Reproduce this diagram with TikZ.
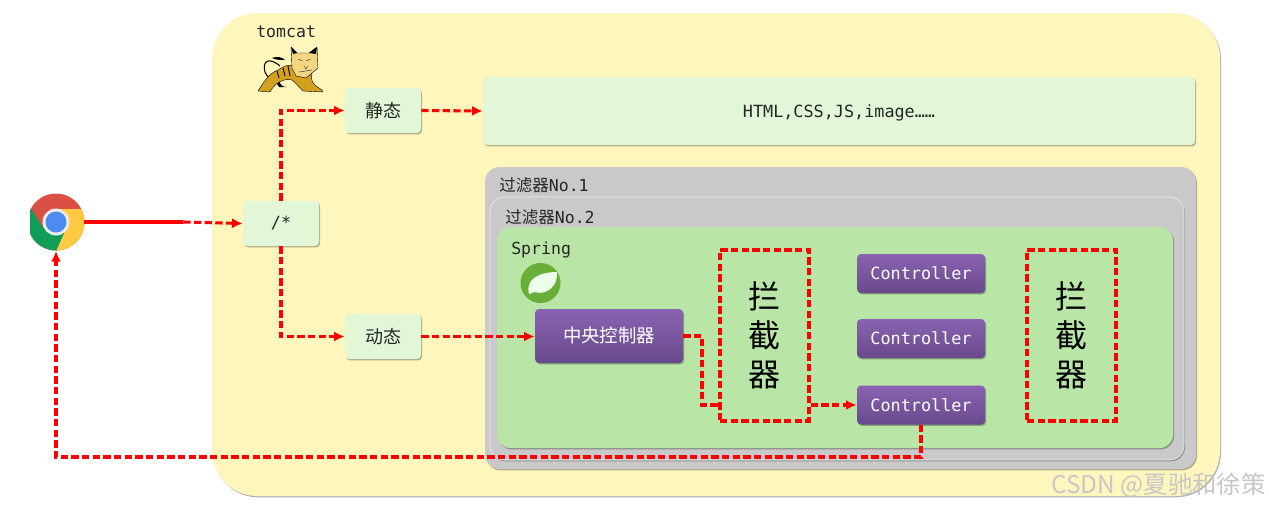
\documentclass[tikz,border=0pt]{standalone}
\usepackage{fontspec}
\setmainfont{Noto Sans CJK SC}
\newfontfamily\monof{DejaVu Sans Mono}
\newfontfamily\cjkf{Noto Sans CJK SC}
\usetikzlibrary{shadows,arrows.meta,calc}
\definecolor{tomcatbg}{HTML}{FFF6BE}
\definecolor{mint}{HTML}{E1F7D8}
\definecolor{grayA}{HTML}{C9C9C9}
\definecolor{springbg}{HTML}{B9E6A6}
\definecolor{purpT}{HTML}{8A63B2}
\definecolor{purpB}{HTML}{684A8B}
\tikzset{
  softshadow/.style={drop shadow={shadow xshift=.8pt,shadow yshift=-1pt,opacity=.3,fill=black}},
  panel/.style={inner sep=0pt,rounded corners=#1,softshadow},
  mintbox/.style={panel=3pt,fill=mint,font=\monof\fontsize{12.6}{15}\selectfont,text=black!85},
  purplebox/.style={panel=3pt,top color=purpT,bottom color=purpB,text=white,draw=none,minimum width=96pt,minimum height=29.25pt,font=\monof\fontsize{12.6}{15}\selectfont},
  monocentred/.style={text height=10pt,text depth=.8pt},
  guardbox/.style={inner sep=0pt,draw=red,line width=2.3pt,dash pattern=on 5.5pt off 2.5pt,minimum width=66.75pt,minimum height=128.25pt,align=center,font=\cjkf\fontsize{24}{29.2}\selectfont,text=black},
  conn/.style={draw=red,line width=2.3pt,dash pattern=on 5.5pt off 2.5pt,-{Latex[length=8pt,width=7.5pt]}},
  plainconn/.style={draw=red,line width=2.3pt,dash pattern=on 5.5pt off 2.5pt},
  labeltext/.style={inner sep=0pt,anchor=west,text=black!85,font=\monof\fontsize{12.4}{15}\selectfont},
}
\begin{document}
\begin{tikzpicture}[x=0.75pt,y=-0.75pt]
\useasboundingbox (0,0) rectangle (1269,507);
\fill[white] (0,0) rectangle (1269,507);
% containers
\node[panel=34pt,fill=tomcatbg,minimum width=756pt,minimum height=362.25pt] (tomcat) at (716,254.5) {};
\node[panel=11pt,fill=grayA,minimum width=533.25pt,minimum height=226.5pt] (filterA) at (840.5,318) {};
\node[panel=11pt,fill=grayA,draw=black!8,line width=.5pt,minimum width=520.5pt,minimum height=197.25pt] (filterB) at (837,328.5) {};
\node[panel=10pt,fill=springbg,minimum width=507pt,minimum height=165.75pt] (spring) at (835,337.5) {};
% labels
\node[labeltext] (tomcatlabel) at (256,32) {tomcat};
\node[labeltext] (filterAlabel) at (499,185) {{\cjkf 过滤器}No.1};
\node[labeltext] (filterBlabel) at (505,217) {{\cjkf 过滤器}No.2};
\node[labeltext] (springlabel) at (511,250) {Spring};
% boxes
\node[mintbox,minimum width=57pt,minimum height=33.75pt] (root) at (281,223.5) {/*};
\node[mintbox,minimum width=57pt,minimum height=33.75pt,font=\cjkf\fontsize{13.5}{15}\selectfont] (static) at (383,110.5) {静态};
\node[mintbox,minimum width=57pt,minimum height=33.75pt,font=\cjkf\fontsize{13.5}{15}\selectfont] (dynamic) at (383,336.5) {动态};
\node[mintbox,monocentred,minimum width=534pt,minimum height=51pt] (assets) at (839,111) {HTML,CSS,JS,image……};
\node[purplebox,minimum width=111pt,minimum height=40.5pt,font=\cjkf\fontsize{13.8}{16}\selectfont] (central) at (609,336) {中央控制器};
\node[purplebox,monocentred] (ctrlA) at (921,273.5) {Controller};
\node[purplebox,monocentred] (ctrlB) at (921,338.5) {Controller};
\node[purplebox,monocentred] (ctrlC) at (921,405) {Controller};
\node[guardbox] (guardA) at (764.5,335.5) {拦\\截\\器};
\node[guardbox] (guardB) at (1071.5,335.5) {拦\\截\\器};
% chrome icon
\coordinate (chromeC) at (56,222);
\begin{scope}
  \clip (30,190) rectangle (90,255);
  \clip (chromeC) circle[radius=28.5];
  \fill[color={rgb,255:red,219;green,80;blue,68}] (20,190) rectangle (90,255);
  \fill[color={rgb,255:red,15;green,157;blue,88}] (20,205) -- (30,207) -- (44,229) -- (66,232) -- (54,256) -- (20,256) -- cycle;
  \fill[color={rgb,255:red,255;green,202;blue,64}] (56,209) -- (90,209) -- (90,256) -- (54,256) -- (66,229) -- cycle;
\end{scope}
\fill[white!92!black] (chromeC) circle[radius=13.5];
\fill[color={rgb,255:red,78;green,139;blue,240}] (chromeC) circle[radius=10.5];
\node[inner sep=0pt,minimum size=42pt,circle] (chrome) at (chromeC) {};
% tomcat icon
\begin{scope}
  \draw[black,line width=.8pt] (280,66) .. controls (268,56) and (262,62) .. (265,72) .. controls (267,77) and (270,78) .. (273,79);
  \fill[black] (272,58) .. controls (277,56) and (282,57) .. (285,60) .. controls (280,60) and (276,60) .. (272,58) -- cycle;
  \fill[black] (279,76) .. controls (279,82) and (280,87) .. (287,87) -- (279,87) .. controls (276,84) and (276,78) .. (279,76) -- cycle;
  \fill[color={rgb,255:red,212;green,160;blue,32},draw=black,line width=.3pt] (258,91) .. controls (264,82) and (268,74) .. (278,70) .. controls (284,66) and (288,64) .. (294,66) -- (312,74) .. controls (310,80) and (312,84) .. (322,90) -- (323,92) -- (303,91) .. controls (298,86) and (295,82) .. (292,80) .. controls (285,78) and (275,82) .. (270,92) -- cycle;
  \draw[black,line width=.7pt] (283,68) -- (285,76) (288,66) -- (290,76) (277,71) -- (279,78);
  \fill[color={rgb,255:red,242;green,214;blue,130},draw=black,line width=.3pt] (291,47) -- (297,53) -- (309,53) -- (317,47) -- (318,68) -- (306,78) -- (296,76) -- (292,68) -- cycle;
  \fill[black] (291,47) -- (297,53) -- (293,54) -- cycle (317,47) -- (309,53) -- (316,54) -- cycle;
  \draw[black!70,line width=.4pt] (298,59) -- (303,61) (311,59) -- (306,61) (304,66) -- (306,69) -- (308,66) (299,72) -- (312,70);
\end{scope}
% spring icon
\fill[color={rgb,255:red,105;green,175;blue,55}] (540.5,283) circle[radius=20];
\fill[white!92!green] (529,294) .. controls (525,280) and (538,272) .. (557,272) .. controls (558,285) and (548,296) .. (534,292) .. controls (532,293) and (531,294) .. (529,294) -- cycle;
% connectors
\coordinate (feedback) at (921,457);
\coordinate (bendA) at (702,336);
\coordinate (bendB) at (702,405);
\draw[draw=red,line width=2.3pt] (chrome.east) -- ++(99,0) coordinate (solidEnd);
\draw[conn] (solidEnd) -- (root.west);
\draw[conn] (root.north) |- (static.west);
\draw[conn] (root.south) |- (dynamic.west);
\draw[conn] (static.east) -- (assets.west);
\draw[conn] (dynamic.east) -- (central.west |- dynamic.east);
\draw[plainconn] (central.east) -- (bendA) -- (bendB) -- (guardA.west |- bendB);
\draw[conn] (guardA.east |- ctrlC.west) -- (ctrlC.west);
\draw[conn] (ctrlC.south) -- (feedback) -| (chromeC |- 0,251);
% watermark
\node[inner sep=0pt,anchor=east,text=black!22,font=\cjkf\fontsize{18.3}{20}\selectfont] (mark) at (1266,485) {CSDN @夏驰和徐策};
\end{tikzpicture}
\end{document}
